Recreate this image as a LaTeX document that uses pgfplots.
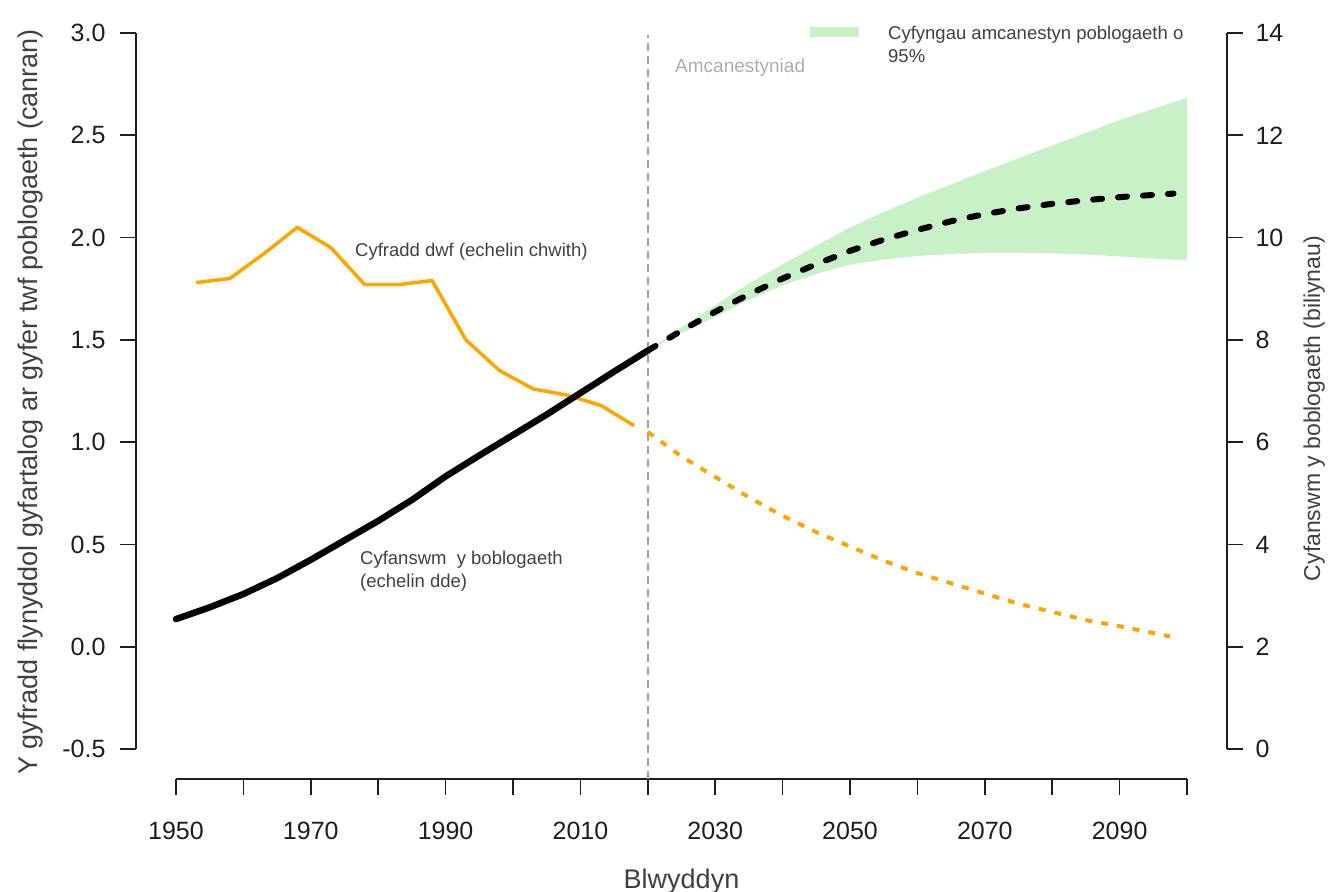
\documentclass[border=0pt]{standalone}
\usepackage{pgfplots}
\pgfplotsset{compat=1.18}
\usepackage{fontspec}
\setmainfont{Liberation Sans}
\definecolor{orng}{RGB}{255,165,0}
\definecolor{bandgreen}{RGB}{200,241,200}
\definecolor{txt}{RGB}{64,64,64}
\definecolor{ghost}{RGB}{172,172,172}
\definecolor{axc}{RGB}{30,30,30}

\begin{document}
\begin{tikzpicture}[x=1pt,y=1pt]
\path[use as bounding box] (0,0) rectangle (1335,891);
\pgfplotsset{
  base/.style={
    scale only axis, width=1091pt, height=746pt,
    at={(136pt,112pt)}, anchor=south west,
    xmin=1944.065, xmax=2105.935,
    clip=false,
    axis line style={draw=none},
    tick align=outside, major tick length=16pt,
    tick style={line width=1.6pt, color=axc},
    tick label style={font=\fontsize{25}{29}\selectfont, text=axc},
    /pgf/number format/assume math mode=true,
  }
}
% ---------- left axis: growth rate ----------
\begin{axis}[base,
  axis x line*=bottom, axis y line*=left,
  ymin=-0.64665, ymax=3.0,
  ytick={-0.5,0,0.5,1,1.5,2,2.5,3},
  yticklabel style={xshift=-11pt, /pgf/number format/fixed, /pgf/number format/fixed zerofill, /pgf/number format/precision=1},
  xticklabel style={yshift=-24pt},
  xtick={1950,1960,1970,1980,1990,2000,2010,2020,2030,2040,2050,2060,2070,2080,2090,2100},
  xticklabels={1950,,1970,,1990,,2010,,2030,,2050,,2070,,2090,,},
]
% axis lines
\addplot[axc, line width=1.6pt] coordinates {(1944.065,-0.5) (1944.065,3.0)};
\addplot[axc, line width=1.6pt] coordinates {(1950,-0.64665) (2100,-0.64665)};
% projection divider
\addplot[gray!75, line width=1.6pt, dash pattern=on 8pt off 5pt] coordinates {(2020,-0.64665) (2020,2.99)};
% growth rate, estimates
\addplot[orng, line width=3.5pt, line join=round] coordinates {
(1953,1.78) (1958,1.80) (1963,1.92) (1968,2.05) (1973,1.95) (1978,1.77)
(1983,1.77) (1988,1.79) (1993,1.50) (1998,1.35) (2003,1.26) (2008,1.23)
(2013,1.18) (2018,1.08)};
% growth rate, projection
\addplot[orng, line width=4pt, dash pattern=on 7pt off 9pt] coordinates {
(2020,1.05) (2025,0.93) (2030,0.83) (2035,0.73) (2040,0.64) (2045,0.56)
(2050,0.49) (2055,0.42) (2060,0.36) (2065,0.31) (2070,0.26) (2075,0.21)
(2080,0.17) (2085,0.13) (2090,0.10) (2097.5,0.05)};
\end{axis}
% ---------- right axis: total population ----------
\begin{axis}[base,
  axis x line=none, axis y line*=right,
  ymin=-0.58659, ymax=14,
  ytick={0,2,4,6,8,10,12,14},
  yticklabel style={xshift=9pt},
]
\addplot[draw=none, fill=bandgreen] coordinates {
(2020,7.79) (2025,8.25) (2030,8.68) (2035,9.10) (2040,9.48) (2045,9.84)
(2050,10.20) (2055,10.50) (2060,10.78) (2065,11.04) (2070,11.30) (2075,11.55)
(2080,11.80) (2085,12.05) (2090,12.30) (2095,12.52) (2100,12.73)
(2100,9.55) (2095,9.59) (2090,9.63) (2085,9.67) (2080,9.69) (2075,9.70)
(2070,9.70) (2065,9.68) (2060,9.64) (2055,9.57) (2050,9.47) (2045,9.29)
(2040,9.07) (2035,8.78) (2030,8.45) (2025,8.13) (2020,7.79)};
\addplot[axc, line width=1.6pt] coordinates {(2105.935,0) (2105.935,14)};
\addplot[black, line width=6.5pt, line join=round, line cap=round] coordinates {
(1950,2.54) (1955,2.77) (1960,3.03) (1965,3.34) (1970,3.70) (1975,4.08)
(1980,4.46) (1985,4.87) (1990,5.33) (1995,5.74) (2000,6.14) (2005,6.54)
(2010,6.96) (2015,7.38) (2020,7.79)};
\addplot[black, line width=6pt, line cap=round, dash pattern=on 9pt off 16pt] coordinates {
(2020,7.79) (2025,8.18) (2030,8.55) (2035,8.89) (2040,9.20) (2045,9.48)
(2050,9.74) (2055,9.96) (2060,10.15) (2065,10.32) (2070,10.46) (2075,10.57)
(2080,10.66) (2085,10.73) (2090,10.79) (2098,10.86)};
\end{axis}
% ---------- texts ----------
\node[anchor=base west, inner sep=0pt, text=txt, font=\fontsize{18.5}{22}\selectfont] at (355,634) {Cyfradd dwf (echelin chwith)};
\node[anchor=base west, inner sep=0pt, text=txt, font=\fontsize{18.5}{22}\selectfont] at (360,326) {Cyfanswm\ \ y boblogaeth};
\node[anchor=base west, inner sep=0pt, text=txt, font=\fontsize{18.5}{22}\selectfont] at (360,303) {(echelin dde)};
\node[anchor=base west, inner sep=0pt, text=ghost, font=\fontsize{19}{22}\selectfont] at (675,818) {Amcanestyniad};
\fill[bandgreen] (810,854) rectangle (859,864);
\node[anchor=base west, inner sep=0pt, text=txt, font=\fontsize{18.5}{22}\selectfont] at (888,851) {Cyfyngau amcanestyn poblogaeth o};
\node[anchor=base west, inner sep=0pt, text=txt, font=\fontsize{18.5}{22}\selectfont] at (888,828) {95\%};
\node[anchor=base, inner sep=0pt, text=txt, font=\fontsize{27}{30}\selectfont] at (681.5,3) {Blwyddyn};
\node[anchor=base, rotate=90, inner sep=0pt, text=txt, font=\fontsize{27}{30}\selectfont] at (37,489) {Y gyfradd flynyddol gyfartalog ar gyfer twf poblogaeth (canran)};
\node[anchor=base, rotate=90, inner sep=0pt, text=txt, font=\fontsize{23}{26}\selectfont] at (1320,482.5) {Cyfanswm y boblogaeth (biliynau)};
\end{tikzpicture}
\end{document}
